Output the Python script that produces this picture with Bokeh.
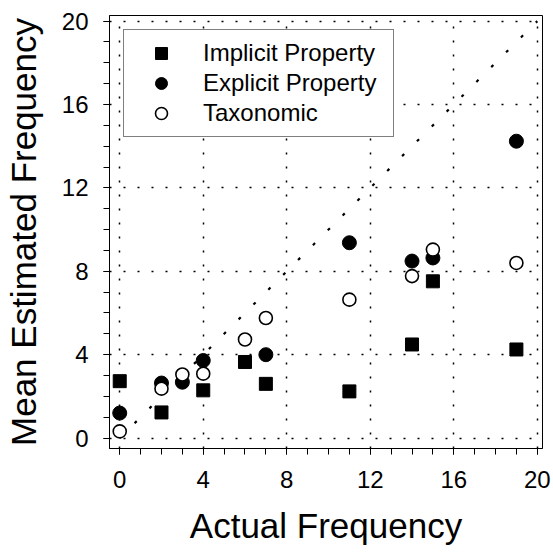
from bokeh.plotting import figure
from bokeh.models import Range1d, FixedTicker, Legend, LegendItem
from bokeh.embed import file_html
from bokeh.resources import INLINE

# ---- data ----
actual_implicit = [0, 2, 4, 6, 7, 11, 14, 15, 19]
implicit_est = [2.73, 1.23, 2.29, 3.65, 2.60, 2.24, 4.49, 7.52, 4.25]

actual_explicit = [0, 2, 3, 4, 7, 11, 14, 15, 19]
explicit_est = [1.20, 2.64, 2.68, 3.72, 4.00, 9.37, 8.49, 8.64, 14.24]

actual_taxonomic = [0, 2, 3, 4, 6, 7, 11, 14, 15, 19]
taxonomic_est = [0.32, 2.37, 3.05, 3.09, 4.73, 5.76, 6.64, 7.77, 9.04, 8.40]

identity_x = [0, 20]
identity_y = [0, 20]

major_ticks = [0, 4, 8, 12, 16, 20]
minor_ticks = list(range(0, 21))

FONT = "Liberation Sans"

p = figure(width=553, height=552,
           x_range=Range1d(-0.49, 20.25), y_range=Range1d(-0.5, 20.27),
           output_backend="svg", toolbar_location=None,
           min_border_left=109, min_border_right=11,
           min_border_top=15, min_border_bottom=104)

p.outline_line_color = "black"
p.outline_line_width = 1
p.background_fill_color = "white"
p.border_fill_color = "white"

for ax in (p.xaxis[0], p.yaxis[0]):
    ax.ticker = FixedTicker(ticks=major_ticks, minor_ticks=minor_ticks)
    ax.axis_line_color = "black"
    ax.major_tick_line_color = "black"
    ax.minor_tick_line_color = "black"
    ax.major_tick_out = 6
    ax.major_tick_in = 0
    ax.minor_tick_out = 6
    ax.minor_tick_in = 0
    ax.major_label_text_font = FONT
    ax.major_label_text_font_size = "24px"
    ax.major_label_text_color = "black"
    ax.axis_label_text_font = FONT
    ax.axis_label_text_font_size = "35px"
    ax.axis_label_text_font_style = "normal"
    ax.axis_label_text_color = "black"

p.xaxis.axis_label = "Actual Frequency"
p.yaxis.axis_label = "Mean Estimated Frequency"
p.xaxis.major_label_standoff = 16
p.yaxis.major_label_standoff = 15
p.xaxis.axis_label_standoff = 15
p.yaxis.axis_label_standoff = 16

for g in (p.xgrid[0], p.ygrid[0]):
    g.grid_line_color = "black"
    g.grid_line_dash = "2 12"
    g.grid_line_width = 1.5

# identity reference line
p.line(identity_x, identity_y, line_color="black", line_width=2.2, line_dash="3 18")

r_imp = p.scatter(actual_implicit, implicit_est, marker="square", size=13,
                  fill_color="black", line_color="black")
r_exp = p.scatter(actual_explicit, explicit_est, marker="circle", size=14,
                  fill_color="black", line_color="black")
r_tax = p.scatter(actual_taxonomic, taxonomic_est, marker="circle", size=13,
                  fill_color="white", line_color="black", line_width=1.6)

legend = Legend(items=[
    LegendItem(label="Implicit Property", renderers=[r_imp]),
    LegendItem(label="Explicit Property", renderers=[r_exp]),
    LegendItem(label="Taxonomic", renderers=[r_tax]),
], location="top_left")
legend.margin = 14
legend.padding = 8
legend.spacing = 0
legend.glyph_width = 58
legend.glyph_height = 30
legend.label_standoff = 13
legend.label_width = 182
legend.label_text_font = FONT
legend.label_text_font_size = "24px"
legend.label_text_color = "black"
legend.border_line_color = "black"
legend.border_line_width = 1
legend.background_fill_color = "white"
legend.background_fill_alpha = 1
p.add_layout(legend, "center")

open("out.html", "w").write(file_html(p, INLINE))
